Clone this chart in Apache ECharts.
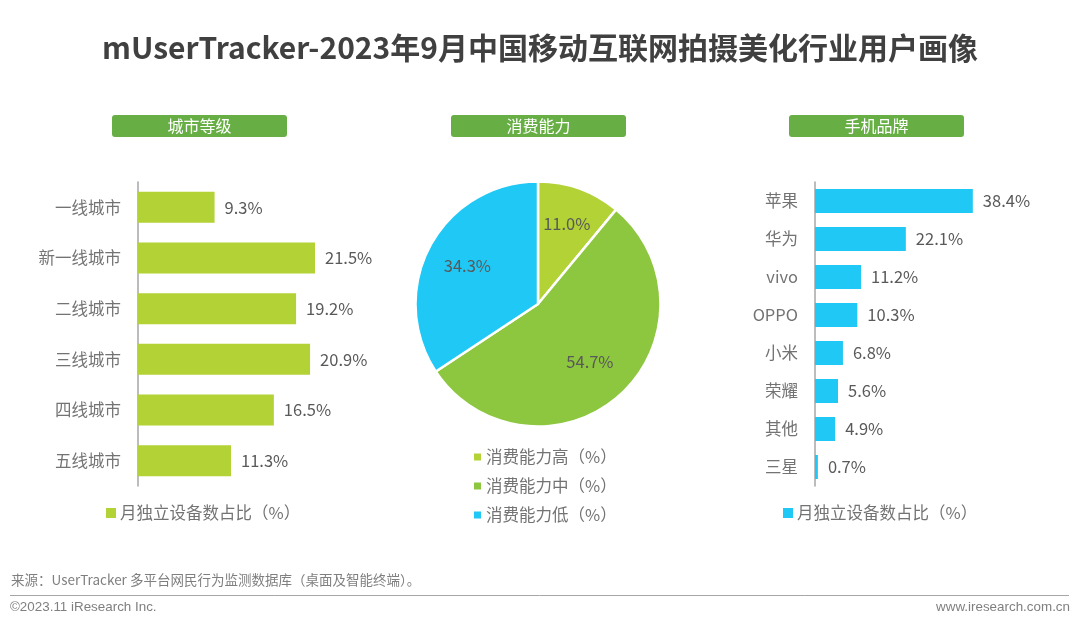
<!DOCTYPE html>
<html>
<head>
<meta charset="utf-8">
<style>
html, body { margin: 0; padding: 0; background: #fff; }
#chart { width: 1080px; height: 627px; }
</style>
<script src="https://cdn.jsdelivr.net/npm/echarts@6/dist/echarts.min.js"></script>
</head>
<body>
<div id="chart"></div>
<script>
var cityLevels = ['一线城市', '新一线城市', '二线城市', '三线城市', '四线城市', '五线城市'];
var cityValues = [9.3, 21.5, 19.2, 20.9, 16.5, 11.3];
var spendLevels = ['消费能力高（%）', '消费能力中（%）', '消费能力低（%）'];
var spendValues = [11.0, 54.7, 34.3];
var brands = ['苹果', '华为', 'vivo', 'OPPO', '小米', '荣耀', '其他', '三星'];
var brandValues = [38.4, 22.1, 11.2, 10.3, 6.8, 5.6, 4.9, 0.7];
var deviceShareName = '月独立设备数占比（%）';
var panelTitles = ['城市等级', '消费能力', '手机品牌'];

var FONT = '"Noto Sans CJK SC", "Noto Sans", sans-serif';
var LATIN = '"Liberation Sans", Arial, sans-serif';
var LIME = '#B2D235';
var GREEN = '#8DC63F';
var BLUE = '#1FC8F5';
var PILL_LEFT = [112, 451, 789];
var PIE_LABEL_OFFSET = [[7, -20], [9, 10], [-14, -8]];

var chart = echarts.init(document.getElementById('chart'));

function pctLabel(params) {
    return params.value.toFixed(1) + '%';
}

function pill(left, text) {
    return {
        type: 'group',
        left: left,
        top: 115,
        children: [{
            type: 'rect',
            shape: { x: 0, y: 0, width: 175, height: 22, r: 3 },
            style: { fill: '#67AF45' }
        }, {
            type: 'text',
            x: 87.5,
            y: 11,
            style: {
                text: text, fill: '#fff', font: '16px ' + FONT,
                align: 'center', verticalAlign: 'middle'
            }
        }]
    };
}

function plainText(opts) {
    return {
        type: 'text',
        x: opts.x,
        y: opts.y,
        style: {
            text: opts.text, fill: opts.color, font: opts.font,
            align: opts.align || 'left', verticalAlign: 'middle'
        }
    };
}

function barAxis(index, names) {
    return {
        type: 'category',
        gridIndex: index,
        inverse: true,
        data: names,
        axisTick: { show: false },
        axisLine: { lineStyle: { color: '#A6A6A6', width: 1.5 } },
        axisLabel: { color: '#737373', fontSize: 16.5, fontFamily: FONT, margin: 17 }
    };
}

function barSeries(index, values, color, barWidth) {
    return {
        name: deviceShareName,
        type: 'bar',
        xAxisIndex: index,
        yAxisIndex: index,
        data: values,
        barWidth: barWidth,
        itemStyle: { color: color },
        label: {
            show: true,
            position: 'right',
            distance: 10,
            color: '#595959',
            fontSize: 16.5,
            fontFamily: FONT,
            formatter: pctLabel
        }
    };
}

function legendBase(left, top, names, colors, size) {
    return {
        left: left,
        top: top,
        orient: 'vertical',
        selectedMode: false,
        icon: 'rect',
        itemWidth: size,
        itemHeight: size,
        itemGap: 5,
        padding: 0,
        textStyle: {
            color: '#737373', fontSize: 16.5, fontFamily: FONT,
            lineHeight: 24, padding: [0, 0, 0, -1]
        },
        data: names.map(function (name, i) {
            return { name: name, itemStyle: { color: colors[i] } };
        })
    };
}

var option = {
    animation: false,
    backgroundColor: '#fff',
    title: {
        text: 'mUserTracker-2023年9月中国移动互联网拍摄美化行业用户画像',
        left: 'center',
        top: 28,
        textStyle: { color: '#404040', fontSize: 30, fontWeight: 'bold', fontFamily: FONT }
    },
    grid: [
        { left: 138, top: 182, width: 247, height: 304 },
        { left: 815, top: 182, width: 205.5, height: 304 }
    ],
    xAxis: [
        { type: 'value', gridIndex: 0, min: 0, max: 30, show: false },
        { type: 'value', gridIndex: 1, min: 0, max: 50, show: false }
    ],
    yAxis: [barAxis(0, cityLevels), barAxis(1, brands)],
    legend: [
        legendBase(106, 501, [deviceShareName], [LIME], 10),
        legendBase(472, 445, spendLevels, [LIME, GREEN, BLUE], 9),
        legendBase(783, 501, [deviceShareName], [BLUE], 10)
    ],
    series: [
        barSeries(0, cityValues, LIME, 31),
        barSeries(1, brandValues, BLUE, 24),
        {
            type: 'pie',
            center: [538, 304],
            radius: [0, 122.5],
            startAngle: 90,
            silent: true,
            itemStyle: { borderColor: '#fff', borderWidth: 2.5 },
            labelLine: { show: false },
            data: spendLevels.map(function (name, i) {
                return {
                    name: name,
                    value: spendValues[i],
                    itemStyle: { color: [LIME, GREEN, BLUE][i] },
                    label: {
                        show: true,
                        position: 'inside',
                        offset: PIE_LABEL_OFFSET[i],
                        color: '#595959',
                        fontSize: 16.5,
                        fontFamily: FONT,
                        formatter: pctLabel
                    }
                };
            })
        }
    ],
    graphic: [
        pill(PILL_LEFT[0], panelTitles[0]),
        pill(PILL_LEFT[1], panelTitles[1]),
        pill(PILL_LEFT[2], panelTitles[2]),
        plainText({
            x: 11, y: 580, color: '#7F7F7F', font: '13.5px ' + FONT,
            text: '来源：UserTracker 多平台网民行为监测数据库（桌面及智能终端）。'
        }),
        {
            type: 'line',
            shape: { x1: 10, y1: 595.5, x2: 1069, y2: 595.5 },
            style: { stroke: '#A6A6A6', lineWidth: 1 }
        },
        plainText({
            x: 10, y: 607, color: '#7F7F7F', font: '13.4px ' + LATIN,
            text: '©2023.11 iResearch Inc.'
        }),
        plainText({
            x: 1070, y: 607, color: '#7F7F7F', font: '13.4px ' + LATIN,
            align: 'right', text: 'www.iresearch.com.cn'
        })
    ]
};

chart.setOption(option);
</script>
</body>
</html>
